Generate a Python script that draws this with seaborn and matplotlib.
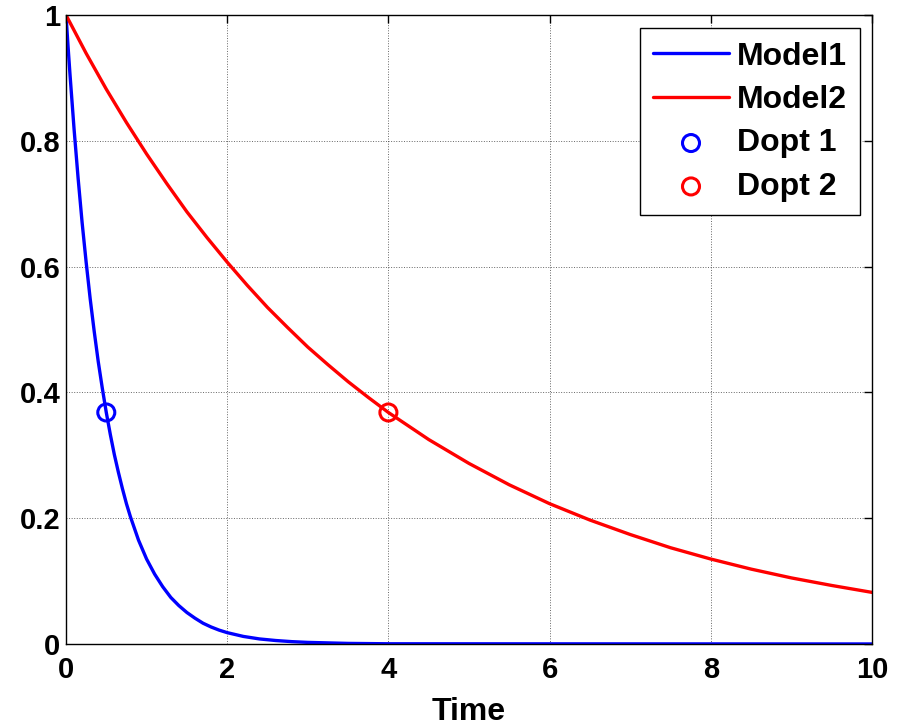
import pandas as pd
import matplotlib
matplotlib.use('Agg')
import matplotlib.pyplot as plt
import seaborn as sns

# values
t1 = [0, 0.025, 0.05, 0.1, 0.15, 0.2, 0.25, 0.3, 0.35, 0.4, 0.45, 0.5, 0.55, 0.6, 0.65, 0.7, 0.75, 0.8,
      0.9, 1.0, 1.1, 1.2, 1.3, 1.4, 1.5, 1.6, 1.7, 1.8, 1.9, 2.0, 2.2, 2.4, 2.6, 2.8, 3.0, 3.5, 4.0, 10.0]
model1 = [1.0, 0.951, 0.905, 0.819, 0.741, 0.670, 0.607, 0.549, 0.497, 0.449, 0.407, 0.368, 0.333, 0.301,
          0.273, 0.247, 0.223, 0.202, 0.165, 0.135, 0.111, 0.091, 0.074, 0.061, 0.050, 0.041, 0.033, 0.027,
          0.022, 0.018, 0.012, 0.008, 0.0055, 0.0037, 0.0025, 0.0009, 0.0003, 0.0]
t2 = [0, 0.25, 0.5, 0.75, 1, 1.25, 1.5, 1.75, 2, 2.25, 2.5, 2.75, 3, 3.25, 3.5, 3.75, 4, 4.5, 5, 5.5, 6,
      6.5, 7, 7.5, 8, 8.5, 9, 9.5, 10]
model2 = [1.0, 0.939, 0.882, 0.829, 0.779, 0.732, 0.687, 0.646, 0.607, 0.570, 0.535, 0.503, 0.472, 0.444,
          0.417, 0.392, 0.368, 0.325, 0.287, 0.253, 0.223, 0.197, 0.174, 0.153, 0.135, 0.119, 0.105, 0.093, 0.082]
dopt_t = [0.5, 4.0]
dopt_y = [0.368, 0.368]
dopt_labels = ['Dopt 1', 'Dopt 2']
colors = ['#0000ff', '#ff0000']

sns.set_style('white')
plt.rcParams['font.family'] = ['Liberation Sans', 'DejaVu Sans']
plt.rcParams['font.weight'] = 'bold'
plt.rcParams['text.color'] = 'black'
plt.rcParams['axes.labelcolor'] = 'black'

fig = plt.figure(figsize=(8.99, 7.26), dpi=100)
ax = fig.add_axes([0.0734, 0.113, 0.8966, 0.8664])

sns.lineplot(x=t1, y=model1, color=colors[0], linewidth=2.4, label='Model1', ax=ax)
sns.lineplot(x=t2, y=model2, color=colors[1], linewidth=2.4, label='Model2', ax=ax)
for i in range(2):
    sns.scatterplot(x=[dopt_t[i]], y=[dopt_y[i]], marker='o', s=150, facecolor='none',
                    edgecolor=colors[i], linewidth=2.2, label=dopt_labels[i], ax=ax, zorder=5)

ax.set_xlim(0, 10)
ax.set_ylim(0, 1)
ax.set_xticks([0, 2, 4, 6, 8, 10])
ax.set_yticks([0, 0.2, 0.4, 0.6, 0.8, 1])
ax.set_yticklabels(['0', '0.2', '0.4', '0.6', '0.8', '1'])
ax.tick_params(direction='in', length=6, width=1, top=True, right=True, labelsize=21, colors='black')
ax.tick_params(axis='x', pad=9)
ax.tick_params(axis='y', pad=4)
for lab in ax.get_xticklabels() + ax.get_yticklabels():
    lab.set_fontweight('bold')
ax.grid(True, color='black', linestyle=':', linewidth=0.7, alpha=0.6)
for s in ax.spines.values():
    s.set_color('black')
    s.set_linewidth(1)
ax.set_xlabel('Time', fontsize=23, fontweight='bold', labelpad=9)

leg = ax.legend(loc='upper right', bbox_to_anchor=(0.985, 0.979), fontsize=23, frameon=True, fancybox=False,
                edgecolor='black', handlelength=2.35, handletextpad=0.25, labelspacing=0.42, borderpad=0.42,
                borderaxespad=0, framealpha=1)
leg.get_frame().set_linewidth(1)
for txt in leg.get_texts():
    txt.set_fontweight('bold')
    txt.set_color('black')

fig.savefig('out.png', dpi=100)
